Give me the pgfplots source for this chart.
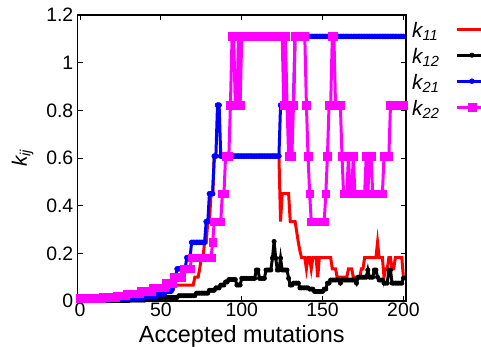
\documentclass[border=0pt]{standalone}
\usepackage{fontspec}
\setmainfont{Liberation Sans}
\usepackage{pgfplots}
\usepackage{pgfplotstable}
\pgfplotsset{compat=1.18}
\definecolor{kred}{RGB}{255,0,0}
\definecolor{kblue}{RGB}{0,0,255}
\definecolor{kmag}{RGB}{255,0,255}
\definecolor{kblack}{RGB}{0,0,0}
\pgfplotstableread{
x a b c d
0 0.003 0.002 0.005 0.012
1 0.003 0.002 0.005 0.012
2 0.003 0.002 0.005 0.012
3 0.003 0.002 0.005 0.012
4 0.003 0.002 0.005 0.012
5 0.003 0.002 0.005 0.012
6 0.003 0.002 0.005 0.012
7 0.003 0.002 0.005 0.012
8 0.003 0.002 0.005 0.012
9 0.003 0.002 0.005 0.012
10 0.003 0.002 0.005 0.012
11 0.003 0.002 0.005 0.012
12 0.003 0.002 0.005 0.012
13 0.003 0.002 0.005 0.012
14 0.003 0.002 0.005 0.016
15 0.003 0.002 0.005 0.016
16 0.003 0.002 0.005 0.016
17 0.003 0.002 0.005 0.016
18 0.003 0.002 0.005 0.016
19 0.003 0.002 0.005 0.016
20 0.003 0.002 0.008 0.016
21 0.003 0.002 0.008 0.016
22 0.003 0.002 0.008 0.016
23 0.003 0.002 0.008 0.022
24 0.003 0.002 0.008 0.022
25 0.003 0.002 0.008 0.022
26 0.003 0.002 0.008 0.022
27 0.003 0.002 0.008 0.022
28 0.003 0.002 0.008 0.022
29 0.003 0.002 0.008 0.03
30 0.006 0.002 0.012 0.03
31 0.006 0.004 0.012 0.03
32 0.006 0.004 0.012 0.03
33 0.006 0.004 0.012 0.03
34 0.006 0.004 0.012 0.03
35 0.006 0.004 0.012 0.03
36 0.006 0.004 0.012 0.03
37 0.006 0.004 0.012 0.03
38 0.006 0.004 0.012 0.04
39 0.006 0.004 0.012 0.04
40 0.012 0.004 0.02 0.04
41 0.012 0.01 0.02 0.04
42 0.012 0.01 0.02 0.04
43 0.012 0.01 0.02 0.04
44 0.012 0.01 0.02 0.04
45 0.012 0.01 0.02 0.055
46 0.012 0.01 0.02 0.055
47 0.012 0.01 0.02 0.055
48 0.025 0.01 0.03 0.055
49 0.025 0.01 0.03 0.055
50 0.025 0.01 0.03 0.055
51 0.025 0.015 0.03 0.055
52 0.025 0.015 0.03 0.055
53 0.04 0.015 0.04 0.074
54 0.04 0.015 0.04 0.074
55 0.04 0.015 0.04 0.074
56 0.04 0.015 0.04 0.074
57 0.04 0.015 0.05 0.074
58 0.067 0.015 0.074 0.1
59 0.067 0.015 0.1 0.1
60 0.067 0.015 0.135 0.1
61 0.067 0.022 0.135 0.1
62 0.067 0.022 0.135 0.1
63 0.067 0.022 0.135 0.1
64 0.067 0.022 0.135 0.135
65 0.067 0.022 0.135 0.135
66 0.067 0.022 0.182 0.135
67 0.067 0.022 0.182 0.135
68 0.067 0.022 0.182 0.135
69 0.067 0.022 0.246 0.182
70 0.067 0.022 0.246 0.182
71 0.1 0.022 0.246 0.182
72 0.1 0.033 0.246 0.182
73 0.1 0.033 0.246 0.182
74 0.135 0.033 0.246 0.182
75 0.182 0.033 0.246 0.182
76 0.182 0.033 0.246 0.182
77 0.246 0.033 0.246 0.182
78 0.246 0.033 0.333 0.182
79 0.333 0.033 0.333 0.182
80 0.333 0.045 0.45 0.182
81 0.45 0.045 0.45 0.182
82 0.45 0.045 0.45 0.246
83 0.608 0.045 0.608 0.333
84 0.608 0.055 0.608 0.333
85 0.608 0.055 0.822 0.333
86 0.608 0.055 0.822 0.333
87 0.608 0.067 0.608 0.333
88 0.608 0.067 0.608 0.45
89 0.608 0.067 0.608 0.45
90 0.608 0.08 0.608 0.608
91 0.608 0.08 0.608 0.608
92 0.608 0.09 0.608 0.608
93 0.608 0.09 0.608 0.822
94 0.608 0.09 0.608 1.11
95 0.608 0.09 0.608 1.11
96 0.608 0.09 0.608 0.822
97 0.608 0.067 0.608 0.822
98 0.608 0.067 0.608 1.11
99 0.608 0.067 0.608 0.822
100 0.608 0.095 0.608 1.11
101 0.608 0.095 0.608 1.11
102 0.608 0.095 0.608 1.11
103 0.608 0.095 0.608 1.11
104 0.608 0.095 0.608 1.11
105 0.608 0.095 0.608 1.11
106 0.608 0.095 0.608 1.11
107 0.608 0.095 0.608 1.11
108 0.608 0.095 0.608 1.11
109 0.608 0.13 0.608 1.11
110 0.608 0.13 0.608 1.11
111 0.608 0.095 0.608 1.11
112 0.608 0.095 0.608 1.11
113 0.608 0.095 0.608 1.11
114 0.608 0.095 0.608 1.11
115 0.608 0.13 0.608 1.11
116 0.608 0.13 0.608 1.11
117 0.608 0.13 0.608 1.11
118 0.608 0.13 0.608 1.11
119 0.608 0.18 0.608 1.11
120 0.608 0.25 0.608 1.11
121 0.608 0.18 0.608 1.11
122 0.608 0.13 0.608 1.11
123 0.608 0.13 0.608 1.11
124 0.333 0.18 0.822 1.11
125 0.45 0.13 0.822 1.11
126 0.45 0.13 0.822 0.822
127 0.45 0.13 0.822 1.11
128 0.45 0.13 0.822 0.822
129 0.45 0.095 0.822 0.608
130 0.333 0.067 0.822 0.822
131 0.333 0.067 0.822 0.608
132 0.333 0.075 0.822 0.822
133 0.333 0.075 1.11 1.11
134 0.29 0.075 1.11 1.11
135 0.246 0.075 1.11 1.11
136 0.21 0.055 1.11 1.11
137 0.182 0.055 1.11 1.11
138 0.182 0.055 1.11 1.11
139 0.182 0.055 1.11 1.11
140 0.135 0.055 1.11 0.822
141 0.182 0.055 1.11 0.608
142 0.182 0.05 1.11 0.45
143 0.135 0.05 1.11 0.333
144 0.182 0.05 1.11 0.333
145 0.182 0.04 1.11 0.333
146 0.182 0.04 1.11 0.333
147 0.1 0.04 1.11 0.333
148 0.182 0.04 1.11 0.333
149 0.182 0.04 1.11 0.333
150 0.182 0.04 1.11 0.333
151 0.182 0.05 1.11 0.333
152 0.182 0.05 1.11 0.45
153 0.182 0.075 1.11 0.608
154 0.182 0.075 1.11 0.822
155 0.182 0.088 1.11 0.822
156 0.135 0.088 1.11 1.11
157 0.135 0.088 1.11 1.11
158 0.135 0.088 1.11 0.822
159 0.1 0.088 1.11 0.822
160 0.1 0.088 1.11 0.822
161 0.1 0.075 1.11 0.822
162 0.1 0.088 1.11 0.608
163 0.1 0.088 1.11 0.45
164 0.1 0.088 1.11 0.45
165 0.1 0.088 1.11 0.45
166 0.135 0.088 1.11 0.608
167 0.135 0.088 1.11 0.45
168 0.135 0.088 1.11 0.45
169 0.1 0.088 1.11 0.608
170 0.1 0.088 1.11 0.45
171 0.1 0.075 1.11 0.45
172 0.1 0.1 1.11 0.45
173 0.1 0.1 1.11 0.45
174 0.135 0.1 1.11 0.45
175 0.135 0.1 1.11 0.45
176 0.182 0.1 1.11 0.45
177 0.182 0.1 1.11 0.608
178 0.182 0.13 1.11 0.45
179 0.182 0.1 1.11 0.608
180 0.182 0.1 1.11 0.608
181 0.182 0.1 1.11 0.45
182 0.182 0.13 1.11 0.45
183 0.182 0.13 1.11 0.45
184 0.246 0.1 1.11 0.45
185 0.182 0.088 1.11 0.45
186 0.182 0.088 1.11 0.45
187 0.182 0.088 1.11 0.45
188 0.1 0.075 1.11 0.608
189 0.135 0.075 1.11 0.608
190 0.135 0.075 1.11 0.608
191 0.182 0.13 1.11 0.608
192 0.182 0.13 1.11 0.822
193 0.135 0.075 1.11 0.822
194 0.135 0.075 1.11 0.822
195 0.182 0.075 1.11 0.822
196 0.182 0.075 1.11 0.822
197 0.182 0.075 1.11 0.822
198 0.182 0.075 1.11 0.822
199 0.182 0.075 1.11 0.822
200 0.1 0.096 1.11 0.822
}\datatable
\begin{document}
\begin{tikzpicture}
\begin{axis}[
  at={(77.5bp,46bp)}, anchor=south west,
  width=328.5bp, height=286bp, scale only axis,
  xmin=-1.6, xmax=201.6, ymin=0, ymax=1.2,
  xtick={0,50,100,150,200},
  ytick={0,0.2,0.4,0.6,0.8,1,1.2},
  tick align=inside, major tick length=5bp,
  axis line style={line width=1.1bp},
  every tick/.style={black, line width=0.9bp},
  tick label style={font=\fontsize{19.5}{22}\selectfont},
  /pgf/number format/assume math mode=true,
  xticklabel style={inner sep=2bp},
  yticklabel style={inner sep=4bp},
  xlabel={Accepted mutations},
  xlabel style={font=\fontsize{23.5}{26}\selectfont, at={(axis description cs:0.5,0)}, anchor=base, yshift=-41bp},
  ylabel={\itshape k\textsubscript{ij}},
  ylabel style={font=\fontsize{21}{24}\selectfont, at={(axis description cs:0,0.5)}, anchor=center, yshift=55bp},
  clip=false,
  legend plot pos=right,
  legend cell align=left,
  legend style={at={(axis description cs:1,1)}, anchor=north west, xshift=6bp, yshift=-7bp,
    draw=none, fill=none, inner sep=0pt, font=\fontsize{21}{24}\selectfont,
    nodes={inner sep=0pt, text height=15bp, text depth=11bp}, row sep=0pt,
    /tikz/every odd column/.append style={column sep=16bp}},
  legend image code/.code={\draw[mark repeat=2,mark phase=2,#1] plot coordinates {(0bp,6bp) (15bp,6bp) (30bp,6bp)};},
]
\addplot[kred, line width=3bp, no markers] table[x=x,y=a]{\datatable};
\addplot[kblack, line width=3bp, mark=*, mark size=2.2bp, mark options={line width=0.5bp}] table[x=x,y=b]{\datatable};
\addplot[kblue, line width=3bp, mark=*, mark size=2.5bp, mark options={line width=0.5bp}] table[x=x,y=c]{\datatable};
\addplot[kmag, line width=3bp, mark=square*, mark size=3.8bp, mark options={line width=0.5bp}] table[x=x,y=d]{\datatable};
\legend{{\itshape k\textsubscript{11}},{\itshape k\textsubscript{12}},{\itshape k\textsubscript{21}},{\itshape k\textsubscript{22}}}
\end{axis}
\pgfresetboundingbox
\path[use as bounding box] (0,0) rectangle (481bp,347bp);
\end{tikzpicture}
\end{document}
